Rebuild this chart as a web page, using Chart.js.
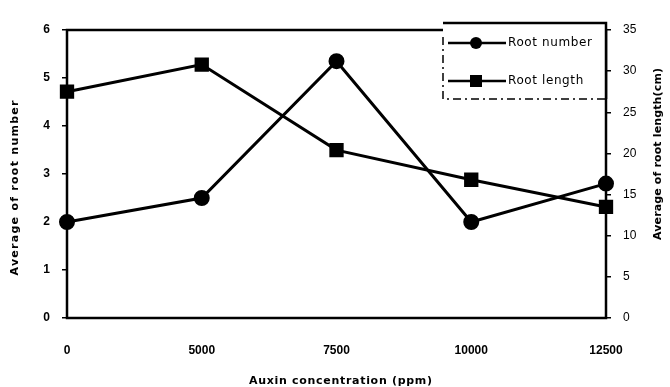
<!DOCTYPE html>
<html>
<head>
<meta charset="utf-8">
<script src="https://cdn.jsdelivr.net/npm/chart.js@4/dist/chart.umd.min.js"></script>
<style>
  html, body { margin: 0; padding: 0; background: #fff; }
  #wrap { width: 670px; height: 387px; position: relative; }
</style>
</head>
<body>
<div id="wrap"><canvas id="c" width="670" height="387"></canvas></div>
<script>
const categories = ['0', '5000', '7500', '10000', '12500'];
const rootNumber = [2.0, 2.5, 5.35, 2.0, 2.8];
const rootLength = [27.5, 30.8, 20.4, 16.8, 13.5];
const leftTicks = [0, 1, 2, 3, 4, 5, 6];
const rightTicks = [0, 5, 10, 15, 20, 25, 30, 35];
const xTitle = 'Auxin concentration (ppm)';
const leftTitle = 'Average of root number';
const rightTitle = 'Average of root length(cm)';

const FONT = 'Liberation Sans, Arial, sans-serif';
const WIDE = '"DejaVu Sans", "Liberation Sans", sans-serif';

// draw text centred at (x, y), stretched with letter spacing to roughly a target width
function fittedText(ctx, text, x, y, target) {
  ctx.letterSpacing = '0px';
  const w0 = ctx.measureText(text).width;
  const sp = Math.max(0, Math.min(2, (target - w0) / (text.length - 1)));
  ctx.letterSpacing = sp + 'px';
  const w = w0 + sp * (text.length - 1);
  ctx.textAlign = 'left';
  ctx.fillText(text, x - w / 2, y);
  ctx.letterSpacing = '0px';
}

const framePlugin = {
  id: 'frame',
  afterDatasetsDraw(chart) {
    const { ctx, chartArea: a } = chart;
    ctx.save();
    ctx.strokeStyle = '#000';
    ctx.lineWidth = 2.5;
    ctx.strokeRect(a.left, a.top, a.right - a.left, a.bottom - a.top);
    ctx.restore();
  },
  afterDraw(chart) {
    const { ctx, chartArea: a } = chart;
    ctx.save();
    ctx.fillStyle = '#000';
    ctx.textBaseline = 'middle';
    ctx.font = 'bold 11px ' + WIDE;
    fittedText(ctx, xTitle, (a.left + a.right) / 2 + 4, 381, 183);
    ctx.save();
    ctx.translate(15, 188);
    ctx.rotate(-Math.PI / 2);
    fittedText(ctx, leftTitle, 0, 0, 175);
    ctx.restore();
    ctx.save();
    ctx.translate(658, 154);
    ctx.rotate(-Math.PI / 2);
    fittedText(ctx, rightTitle, 0, 0, 172);
    ctx.restore();
    ctx.restore();

    // legend box
    const lx = a.right - 163, ly = a.top - 7, lw = 163, lh = 76;
    ctx.save();
    ctx.fillStyle = '#fff';
    ctx.fillRect(lx, ly, lw, lh);
    ctx.strokeStyle = '#000';
    ctx.lineWidth = 1.5;
    ctx.setLineDash([8, 4, 2, 4]);
    ctx.beginPath();
    ctx.moveTo(lx, ly + 14);
    ctx.lineTo(lx, ly + lh);
    ctx.lineTo(lx + lw, ly + lh);
    ctx.stroke();
    ctx.setLineDash([]);
    ctx.lineWidth = 2.5;
    ctx.beginPath();
    ctx.moveTo(lx, ly);
    ctx.lineTo(lx + lw, ly);
    ctx.lineTo(lx + lw, ly + lh);
    ctx.stroke();
    const items = [
      { label: chart.data.datasets[0].label, style: 'circle', y: ly + 20 },
      { label: chart.data.datasets[1].label, style: 'rect', y: ly + 58 }
    ];
    items.forEach(it => {
      ctx.lineWidth = 2.5;
      ctx.beginPath();
      ctx.moveTo(lx + 5, it.y);
      ctx.lineTo(lx + 63, it.y);
      ctx.stroke();
      ctx.fillStyle = '#000';
      if (it.style === 'circle') {
        ctx.beginPath();
        ctx.arc(lx + 33, it.y, 6, 0, Math.PI * 2);
        ctx.fill();
      } else {
        ctx.fillRect(lx + 27, it.y - 6, 12, 12);
      }
      ctx.font = '12px ' + WIDE;
      ctx.textBaseline = 'middle';
      ctx.letterSpacing = '0.6px';
      ctx.textAlign = 'left';
      ctx.fillText(it.label, lx + 65, it.y);
      ctx.letterSpacing = '0px';
    });
    ctx.restore();
  }
};

new Chart(document.getElementById('c'), {
  type: 'line',
  data: {
    labels: categories,
    datasets: [
      {
        label: 'Root number',
        data: rootNumber,
        yAxisID: 'y',
        borderColor: '#000',
        backgroundColor: '#000',
        borderWidth: 3,
        pointStyle: 'circle',
        pointRadius: 6.5,
        pointHoverRadius: 6.5,
        tension: 0
      },
      {
        label: 'Root length',
        data: rootLength,
        yAxisID: 'y1',
        borderColor: '#000',
        backgroundColor: '#000',
        borderWidth: 3,
        pointStyle: 'rect',
        pointRadius: 8,
        pointHoverRadius: 8,
        tension: 0
      }
    ]
  },
  options: {
    responsive: false,
    animation: false,
    layout: { padding: { top: 30, left: 0, right: 0, bottom: 0 } },
    plugins: { legend: { display: false }, tooltip: { enabled: false } },
    scales: {
      x: {
        type: 'category',
        offset: false,
        grid: { display: false, drawTicks: false },
        border: { display: false },
        ticks: { color: '#000', font: { family: FONT, size: 12, weight: 'bold' }, padding: 25, maxRotation: 0 },
        afterFit(s) { s.height = 69; }
      },
      y: {
        position: 'left',
        min: 0, max: 6,
        afterBuildTicks(s) { s.ticks = leftTicks.map(v => ({ value: v })); },
        grid: { drawOnChartArea: false, drawTicks: true, tickLength: 5, color: '#000', lineWidth: 1.5 },
        border: { display: false },
        ticks: { color: '#000', font: { family: FONT, size: 12, weight: 'bold' }, padding: 12 },
        afterFit(s) { s.width = 67; }
      },
      y1: {
        position: 'right',
        min: 0, max: 35,
        afterBuildTicks(s) { s.ticks = rightTicks.map(v => ({ value: v })); },
        grid: { drawOnChartArea: false, drawTicks: true, tickLength: 5, color: '#000', lineWidth: 1.5 },
        border: { display: false },
        ticks: { color: '#000', font: { family: FONT, size: 12 }, padding: 12 },
        afterFit(s) { s.width = 64; }
      }
    }
  },
  plugins: [framePlugin]
});
</script>
</body>
</html>
